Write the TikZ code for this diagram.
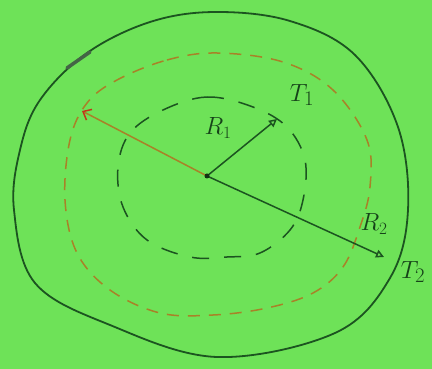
\documentclass[tikz,border=0pt]{standalone}
\usetikzlibrary{arrows.meta}
\definecolor{paper}{RGB}{110,226,88}
\definecolor{pen}{RGB}{28,84,32}
\definecolor{ochre}{RGB}{168,130,40}
\definecolor{redpen}{RGB}{196,52,24}
\begin{document}
\begin{tikzpicture}[x=1pt,y=-1pt,line width=1.5pt,>={Triangle[open,length=8pt,width=8pt]},
  lbl/.style={inner sep=0pt,text=pen!80!black}]
  \fill[paper] (0,0) rectangle (432,369);
  \useasboundingbox (0,0) rectangle (432,369);

  \coordinate (O) at (207,176);
  \coordinate (P1) at (277,119);
  \coordinate (P2) at (384,257);
  \coordinate (P3) at (82,111);

  % outer boundary
  \draw[pen,line width=1.8pt] plot[smooth cycle,tension=0.6] coordinates {
    (215,12) (290,21) (355,55) (398,127) (408,210) (390,278) (335,333)
    (217,357) (110,325) (35,283) (14,210) (20,150) (40,100) (87,53) (150,22)};
  \draw[pen!60!gray,line width=3.5pt,line cap=round] (67,68) -- (90,52);

  % dashed contours
  \draw[ochre,dash pattern=on 12pt off 9pt] plot[smooth cycle,tension=0.6] coordinates {
    (117,80) (167,60) (217,53) (283,62) (333,90) (367,140) (370,187) (360,227)
    (343,267) (313,293) (267,308) (213,315) (160,313) (110,290) (77,253)
    (65,200) (70,140) (87,103)};
  \draw[pen,dash pattern=on 17pt off 15pt] plot[smooth cycle,tension=0.6] coordinates {
    (163,110) (207,97) (253,107) (287,127) (305,160) (303,200) (290,230)
    (260,253) (227,257) (190,257) (147,240) (123,207) (118,167) (130,133)};

  % radii
  \draw[pen,->] (O) -- (P1);
  \draw[pen,->] (O) -- (P2);
  \draw[ochre,-{Straight Barb[length=7pt,width=12pt,color=redpen]}] (O) -- (P3);
  \fill[pen!60!black] (O) circle (2.5pt);

  % labels
  \node[lbl,font=\fontsize{26}{26}\selectfont] (R1) at (218,128) {$R_1$};
  \node[lbl,font=\fontsize{32}{32}\selectfont] (T1) at (302,95) {$T_1$};
  \node[lbl,font=\fontsize{24}{24}\selectfont] (R2) at (374,224) {$R_2$};
  \node[lbl,font=\fontsize{30}{30}\selectfont] (T2) at (413,272) {$T_2$};
\end{tikzpicture}
\end{document}
